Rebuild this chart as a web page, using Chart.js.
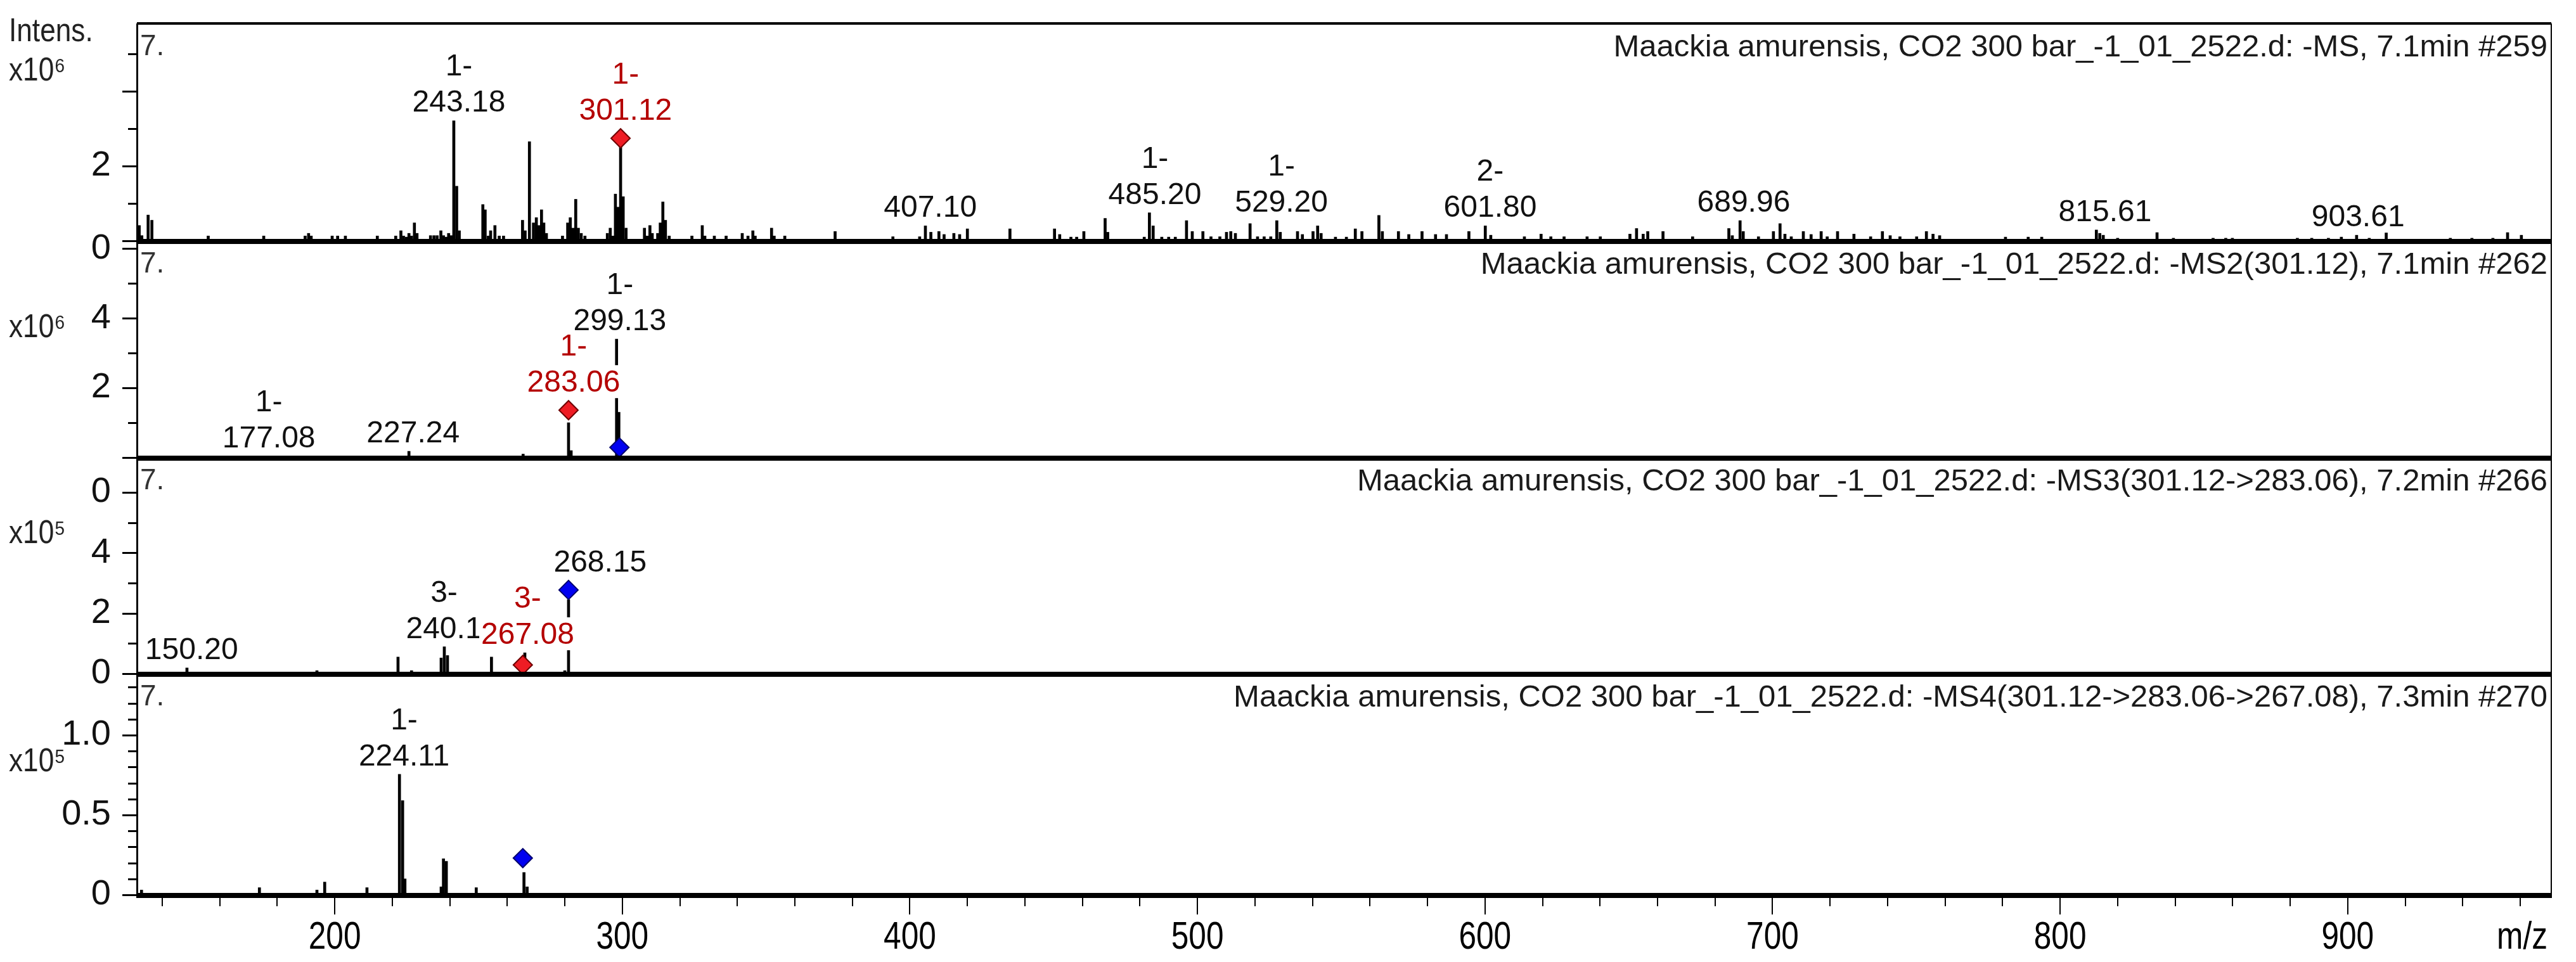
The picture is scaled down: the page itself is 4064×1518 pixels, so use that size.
<!DOCTYPE html>
<html><head><meta charset="utf-8"><title>Maackia amurensis MSn spectra</title>
<script src="https://cdn.jsdelivr.net/npm/chart.js@4.4.1/dist/chart.umd.min.js"></script>
<style>html,body{margin:0;padding:0;background:#fff;overflow:hidden}canvas{display:block}</style>
</head><body>
<canvas id="c" width="4064" height="1518"></canvas>
<script>
// ---------------- data ----------------
const xMinorTicks = [140,160,180,200,220,240,260,280,300,320,340,360,380,400,420,440,460,480,500,520,540,560,580,600,620,640,660,680,700,720,740,760,780,800,820,840,860,880,900,920,940,960];
const xMajorTicks = [200,300,400,500,600,700,800,900];
const xTickLabels = ['200','300','400','500','600','700','800','900'];

// MS (x10^6)
const ms1Mz = [132.0,132.9,135.1,136.4,156.0,175.3,189.7,190.9,191.8,199.1,201.0,203.7,214.8,221.2,223.0,223.9,224.9,225.8,226.7,227.7,228.6,233.3,234.5,235.6,236.9,237.8,238.7,239.6,240.5,241.4,242.4,243.3,
 251.5,252.3,253.4,254.2,255.7,257.2,258.7,265.3,266.2,267.7,269.1,270.1,270.9,271.9,272.7,273.6,279.2,281.0,281.9,282.9,283.8,284.7,285.7,287.0,294.8,295.8,296.8,297.6,298.5,299.4,300.3,301.3,
 307.7,308.6,309.6,310.4,312.3,313.2,314.1,315.0,316.3,324.2,327.8,328.7,332.0,336.1,341.7,343.7,345.4,346.2,351.9,352.8,356.5,374.0,394.1,403.4,405.4,407.3,410.1,411.9,415.3,417.3,420.0,434.8,
 450.3,452.1,456.0,458.0,460.5,467.9,468.8,481.5,483.3,484.6,487.6,490.0,492.3,496.2,498.2,501.9,504.7,507.8,510.1,511.6,513.2,518.3,520.9,523.2,525.5,527.6,528.8,534.8,536.5,540.2,541.8,543.0,
 548.0,551.8,554.9,557.2,563.1,564.3,569.9,573.5,578.1,582.8,586.6,594.4,600.1,602.0,613.7,619.5,622.9,627.5,635.5,640.1,650.4,652.7,655.0,656.6,661.9,672.2,684.8,686.0,688.7,689.8,695.1,700.3,
 702.6,704.3,706.5,710.7,713.4,716.9,719.0,722.6,728.3,734.1,738.2,740.9,744.3,750.1,753.5,755.8,758.1,781.0,788.9,793.6,812.6,813.8,815.0,820.0,833.7,839.4,853.2,857.6,859.9,882.5,887.5,893.3,
 897.8,903.1,907.5,913.4,935.7,943.2,950.5,955.6,960.4];
const ms1Int = [0.41,0.14,0.69,0.55,0.13,0.13,0.13,0.2,0.13,0.13,0.13,0.13,0.13,0.13,0.27,0.13,0.1,0.2,0.13,0.48,0.2,0.14,0.14,0.14,0.27,0.14,0.1,0.2,0.14,3.21,1.46,0.27,
 0.97,0.83,0.13,0.27,0.41,0.13,0.13,0.55,0.27,2.65,0.48,0.62,0.41,0.83,0.48,0.2,0.13,0.48,0.62,0.34,1.11,0.34,0.2,0.13,0.2,0.34,0.13,1.25,0.9,2.51,1.18,0.34,
 0.34,0.13,0.41,0.2,0.2,0.48,1.04,0.55,0.13,0.13,0.41,0.13,0.13,0.13,0.2,0.13,0.27,0.13,0.34,0.13,0.13,0.25,0.11,0.11,0.4,0.23,0.25,0.17,0.2,0.17,0.32,0.32,
 0.32,0.17,0.1,0.1,0.25,0.6,0.23,0.1,0.75,0.4,0.1,0.1,0.1,0.54,0.25,0.25,0.11,0.11,0.23,0.25,0.2,0.46,0.11,0.11,0.11,0.54,0.23,0.25,0.17,0.25,0.4,0.2,
 0.1,0.1,0.32,0.25,0.68,0.25,0.25,0.17,0.25,0.17,0.17,0.25,0.4,0.15,0.11,0.18,0.11,0.11,0.11,0.11,0.18,0.33,0.18,0.25,0.25,0.11,0.33,0.14,0.54,0.25,0.11,0.25,
 0.46,0.18,0.11,0.25,0.17,0.25,0.11,0.25,0.18,0.11,0.25,0.14,0.11,0.11,0.25,0.18,0.14,0.1,0.1,0.1,0.29,0.2,0.15,0.07,0.22,0.07,0.07,0.07,0.07,0.07,0.07,0.07,
 0.1,0.15,0.07,0.22,0.07,0.07,0.07,0.22,0.15];
const ms1MarkMz = [299.4];
const ms1MarkInt = [2.74];
const ms1MarkKind = ['red'];
const ms1LabelMz = [243.18,301.12,407.10,485.20,529.20,601.80,689.96,815.61,903.61];
const ms1LabelPeak = [241.4,299.4,405.4,483.3,527.6,600.1,688.7,812.6,903.1];
const ms1LabelCharge = ['1-','1-','','1-','1-','2-','','',''];
const ms1LabelText = ['243.18','301.12','407.10','485.20','529.20','601.80','689.96','815.61','903.61'];
const ms1LabelKind = ['black','red','black','black','black','black','black','black','black'];
const ms1TickValues = [0,1,2,3,4,5];
const ms1TickText = ['','','2','','',''];
const ms1MajorTicks = [0,2,4];

// MS2 (x10^6)
const ms2Mz = [175.6,225.8,265.5,281.3,282.2,298.0,298.8,299.3];
const ms2Int = [0.04,0.18,0.1,1.0,0.2,3.4,1.3,0.2];
const ms2MarkMz = [281.3,299.0];
const ms2MarkInt = [1.36,0.29];
const ms2MarkKind = ['red','blue'];
const ms2LabelMz = [177.08,227.24,283.06,299.13];
const ms2LabelPeak = [175.6,225.8,281.3,298.0];
const ms2LabelCharge = ['1-','','1-','1-'];
const ms2LabelText = ['177.08','227.24','283.06','299.13'];
const ms2LabelKind = ['black','black','red','black'];
const ms2TickValues = [0,1,2,3,4,5,6];
const ms2TickText = ['','','2','','4','','0'];
const ms2MajorTicks = [0,2,4,6];

// MS3 (x10^5)
const ms3Mz = [148.6,193.8,222.0,226.7,237.0,238.1,239.2,254.5,266.1,280.0,281.3];
const ms3Int = [0.19,0.1,0.55,0.1,0.52,0.89,0.6,0.55,0.69,0.1,2.45];
const ms3MarkMz = [265.4,281.3];
const ms3MarkInt = [0.29,2.77];
const ms3MarkKind = ['red','blue'];
const ms3LabelMz = [150.20,238.0,267.08,292.3];
const ms3LabelPeak = [148.6,238.1,265.4,281.3];
const ms3LabelCharge = ['','3-','3-',''];
const ms3LabelText = ['150.20','240.1','267.08','268.15'];
const ms3LabelKind = ['black','black','red','black'];
const ms3TickValues = [0,1,2,3,4,5,6];
const ms3TickText = ['0','','2','','4','','0'];
const ms3MajorTicks = [0,2,4,6];

// MS4 (x10^5)
const ms4Mz = [132.8,173.8,193.8,196.5,211.2,222.5,223.6,224.4,237.0,237.8,238.8,249.2,265.8,266.9];
const ms4Int = [0.03,0.045,0.03,0.08,0.045,0.755,0.59,0.1,0.05,0.226,0.21,0.045,0.14,0.05];
const ms4MarkMz = [265.4];
const ms4MarkInt = [0.23];
const ms4MarkKind = ['blue'];
const ms4LabelMz = [224.11];
const ms4LabelPeak = [222.5];
const ms4LabelCharge = ['1-'];
const ms4LabelText = ['224.11'];
const ms4LabelKind = ['black'];
const ms4TickValues = [0,0.1,0.2,0.3,0.4,0.5,0.6,0.7,0.8,0.9,1.0,1.1,1.2,1.3];
const ms4TickText = ['0','','','','','0.5','','','','','1.0','','',''];
const ms4MajorTicks = [0,0.5,1.0];

const titles = [
  'Maackia amurensis, CO2 300 bar_-1_01_2522.d: -MS, 7.1min #259',
  'Maackia amurensis, CO2 300 bar_-1_01_2522.d: -MS2(301.12), 7.1min #262',
  'Maackia amurensis, CO2 300 bar_-1_01_2522.d: -MS3(301.12->283.06), 7.2min #266',
  'Maackia amurensis, CO2 300 bar_-1_01_2522.d: -MS4(301.12->283.06->267.08), 7.3min #270'
];
const powerLabels = ['x10\u2076','x10\u2076','x10\u2075','x10\u2075'];
const yTitle = 'Intens.';
const xTitle = 'm/z';
const rtLabel = '7.';

// ---------------- styling / layout ----------------
const REG = "'Liberation Sans',Arial,sans-serif";
const RED_TEXT = '#b40000', RED_FILL = '#ee1c24', RED_EDGE = '#6e0000';
const BLUE_FILL = '#0000f0', BLUE_EDGE = '#00006e';
const MARK_R = 15;

const panels = [
  {id:'y1', mz:ms1Mz, int:ms1Int, markMz:ms1MarkMz, markInt:ms1MarkInt, markKind:ms1MarkKind, lMz:ms1LabelMz, lPeak:ms1LabelPeak, lCharge:ms1LabelCharge, lText:ms1LabelText, lKind:ms1LabelKind, ticks:ms1TickValues, tickText:ms1TickText, major:ms1MajorTicks, max:5.81, weight:343, powDy:90},
  {id:'y2', mz:ms2Mz, int:ms2Int, markMz:ms2MarkMz, markInt:ms2MarkInt, markKind:ms2MarkKind, lMz:ms2LabelMz, lPeak:ms2LabelPeak, lCharge:ms2LabelCharge, lText:ms2LabelText, lKind:ms2LabelKind, ticks:ms2TickValues, tickText:ms2TickText, major:ms2MajorTicks, max:6.22, weight:342, powDy:152},
  {id:'y3', mz:ms3Mz, int:ms3Int, markMz:ms3MarkMz, markInt:ms3MarkInt, markKind:ms3MarkKind, lMz:ms3LabelMz, lPeak:ms3LabelPeak, lCharge:ms3LabelCharge, lText:ms3LabelText, lKind:ms3LabelKind, ticks:ms3TickValues, tickText:ms3TickText, major:ms3MajorTicks, max:7.15, weight:341, powDy:135},
  {id:'y4', mz:ms4Mz, int:ms4Int, markMz:ms4MarkMz, markInt:ms4MarkInt, markKind:ms4MarkKind, lMz:ms4LabelMz, lPeak:ms4LabelPeak, lCharge:ms4LabelCharge, lText:ms4LabelText, lKind:ms4LabelKind, ticks:ms4TickValues, tickText:ms4TickText, major:ms4MajorTicks, max:1.385, weight:349, powDy:154}
];

const datasets = [];
panels.forEach(p => {
  datasets.push({
    type:'bar', yAxisID:p.id, xAxisID:'x', grouped:false,
    data:p.mz.map((m,i)=>({x:m, y:p.int[i]})),
    backgroundColor:'#000', borderWidth:0, barThickness:4, order:2
  });
  datasets.push({
    type:'scatter', yAxisID:p.id, xAxisID:'x',
    data:p.markMz.map((m,i)=>({x:m, y:p.markInt[i]})),
    pointStyle:'rectRot', pointRadius:MARK_R, pointHoverRadius:MARK_R, borderWidth:2,
    pointBackgroundColor:p.markKind.map(k=>k==='red'?RED_FILL:BLUE_FILL),
    pointBorderColor:p.markKind.map(k=>k==='red'?RED_EDGE:BLUE_EDGE),
    showLine:false, order:1
  });
});

function noPad(s) { s.paddingTop = 0; s.paddingBottom = 0; s.paddingLeft = 0; s.paddingRight = 0; }

const scales = {
  x: {
    type:'linear', position:'bottom', min:131.2, max:970.8, offset:false,
    grid:{display:false, offset:false, drawTicks:false}, border:{display:false},
    afterBuildTicks: s => { s.ticks = xMinorTicks.map(v=>({value:v})); },
    afterFit: s => { s.height = 106; noPad(s); },
    ticks:{display:false, autoSkip:false, maxRotation:0, minRotation:0,
      callback: v => { const i = xMajorTicks.indexOf(v); return i>=0 ? xTickLabels[i] : ''; }}
  }
};
// left stacked axes: defined bottom-first so the first panel sits at the top
[...panels].reverse().forEach(p => {
  scales[p.id] = {
    type:'linear', position:'left', stack:'ms', stackWeight:p.weight,
    min:0, max:p.max, grid:{display:false, drawTicks:false}, border:{display:false},
    afterBuildTicks: s => { s.ticks = p.ticks.map(v=>({value:v})); },
    afterFit: s => { s.width = 216; noPad(s); },
    ticks:{autoSkip:false, padding:41, color:'#111', font:{family:REG, size:56},
      callback: v => { const i = p.ticks.indexOf(v); return i>=0 ? p.tickText[i] : ''; }}
  };
});

function drawBoxedText(ctx, text, cx, base, color) {
  const w = ctx.measureText(text).width;
  ctx.fillStyle = '#fff';
  ctx.fillRect(cx - w/2 - 3, base - 42, w + 6, 52);
  ctx.fillStyle = color;
  ctx.fillText(text, cx, base);
}
function drawCondensed(ctx, text, x, y, sx, align) {
  ctx.save();
  ctx.translate(x, y);
  ctx.scale(sx, 1);
  ctx.textAlign = align;
  ctx.fillText(text, 0, 0);
  ctx.restore();
}

const deco = {
  id:'deco',
  afterDatasetsDraw(chart) {
    const ctx = chart.ctx, ca = chart.chartArea, xs = chart.scales.x;
    ctx.save();
    ctx.fillStyle = '#000';
    panels.forEach(p => {
      const ys = chart.scales[p.id];
      const zero = ys.getPixelForValue(0);
      ctx.fillRect(ca.left, Math.round(zero) - 3, ca.right - ca.left, 8);
      p.ticks.forEach(v => {
        const y = Math.round(ys.getPixelForValue(v));
        const len = p.major.includes(v) ? 23 : 14;
        ctx.fillRect(ca.left - len, y - 1, len, 3);
      });
    });
    ctx.fillRect(ca.left, ca.top - 2, ca.right - ca.left, 4);
    ctx.fillRect(ca.left - 1, ca.top, 3, ca.bottom + 5 - ca.top);
    ctx.fillRect(ca.right - 1, ca.top, 2, ca.bottom + 5 - ca.top);
    xMinorTicks.forEach(v => {
      const x = Math.round(xs.getPixelForValue(v));
      ctx.fillRect(x - 1, ca.bottom + 5, 2, xMajorTicks.includes(v) ? 26 : 13);
    });
    // x tick labels (condensed, as in the instrument print-out)
    ctx.font = '62px ' + REG; ctx.textBaseline = 'alphabetic'; ctx.fillStyle = '#000';
    xMajorTicks.forEach((v, i) => drawCondensed(ctx, xTickLabels[i], xs.getPixelForValue(v), ca.bottom + 85, 0.8, 'center'));
    drawCondensed(ctx, xTitle, ca.right - 6, ca.bottom + 85, 0.8, 'right');

    // peak labels
    ctx.textAlign = 'center'; ctx.textBaseline = 'alphabetic';
    ctx.font = '48px ' + REG;
    panels.forEach(p => {
      const ys = chart.scales[p.id];
      p.lMz.forEach((lm, j) => {
        const at = p.lPeak[j];
        let top = ys.getPixelForValue(0);
        p.mz.forEach((m,i) => { if (Math.abs(m - at) <= 1.5) top = Math.min(top, ys.getPixelForValue(p.int[i])); });
        p.markMz.forEach((m,i) => { if (Math.abs(m - at) <= 1.5) top = Math.min(top, ys.getPixelForValue(p.markInt[i]) - MARK_R); });
        const base = top - 14;
        const cx = xs.getPixelForValue(lm);
        const col = p.lKind[j] === 'red' ? RED_TEXT : '#111';
        drawBoxedText(ctx, p.lText[j], cx, base, col);
        if (p.lCharge[j]) drawBoxedText(ctx, p.lCharge[j], cx, base - 57, col);
      });
    });

    // panel titles, "7." and power labels
    panels.forEach((p, k) => {
      const ys = chart.scales[p.id];
      ctx.fillStyle = '#1a1a1a';
      ctx.font = '49px ' + REG; ctx.textAlign = 'right';
      ctx.fillText(titles[k], ca.right - 6, ys.top + 52);
      ctx.font = '46px ' + REG; ctx.textAlign = 'left'; ctx.fillStyle = '#333';
      ctx.fillText(rtLabel, ca.left + 5, ys.top + 50);
      ctx.font = '52px ' + REG; ctx.fillStyle = '#222';
      drawCondensed(ctx, powerLabels[k], 14, ys.top + p.powDy, 0.85, 'left');
    });
    ctx.font = '52px ' + REG; ctx.fillStyle = '#222';
    drawCondensed(ctx, yTitle, 14, 65, 0.85, 'left');
    ctx.restore();
  }
};

new Chart(document.getElementById('c'), {
  type:'bar',
  data:{datasets},
  options:{
    responsive:false, animation:false, devicePixelRatio:1,
    layout:{padding:{top:37, right:39, left:0, bottom:0}},
    plugins:{legend:{display:false}, tooltip:{enabled:false}},
    scales
  },
  plugins:[deco]
});
</script>
</body></html>
